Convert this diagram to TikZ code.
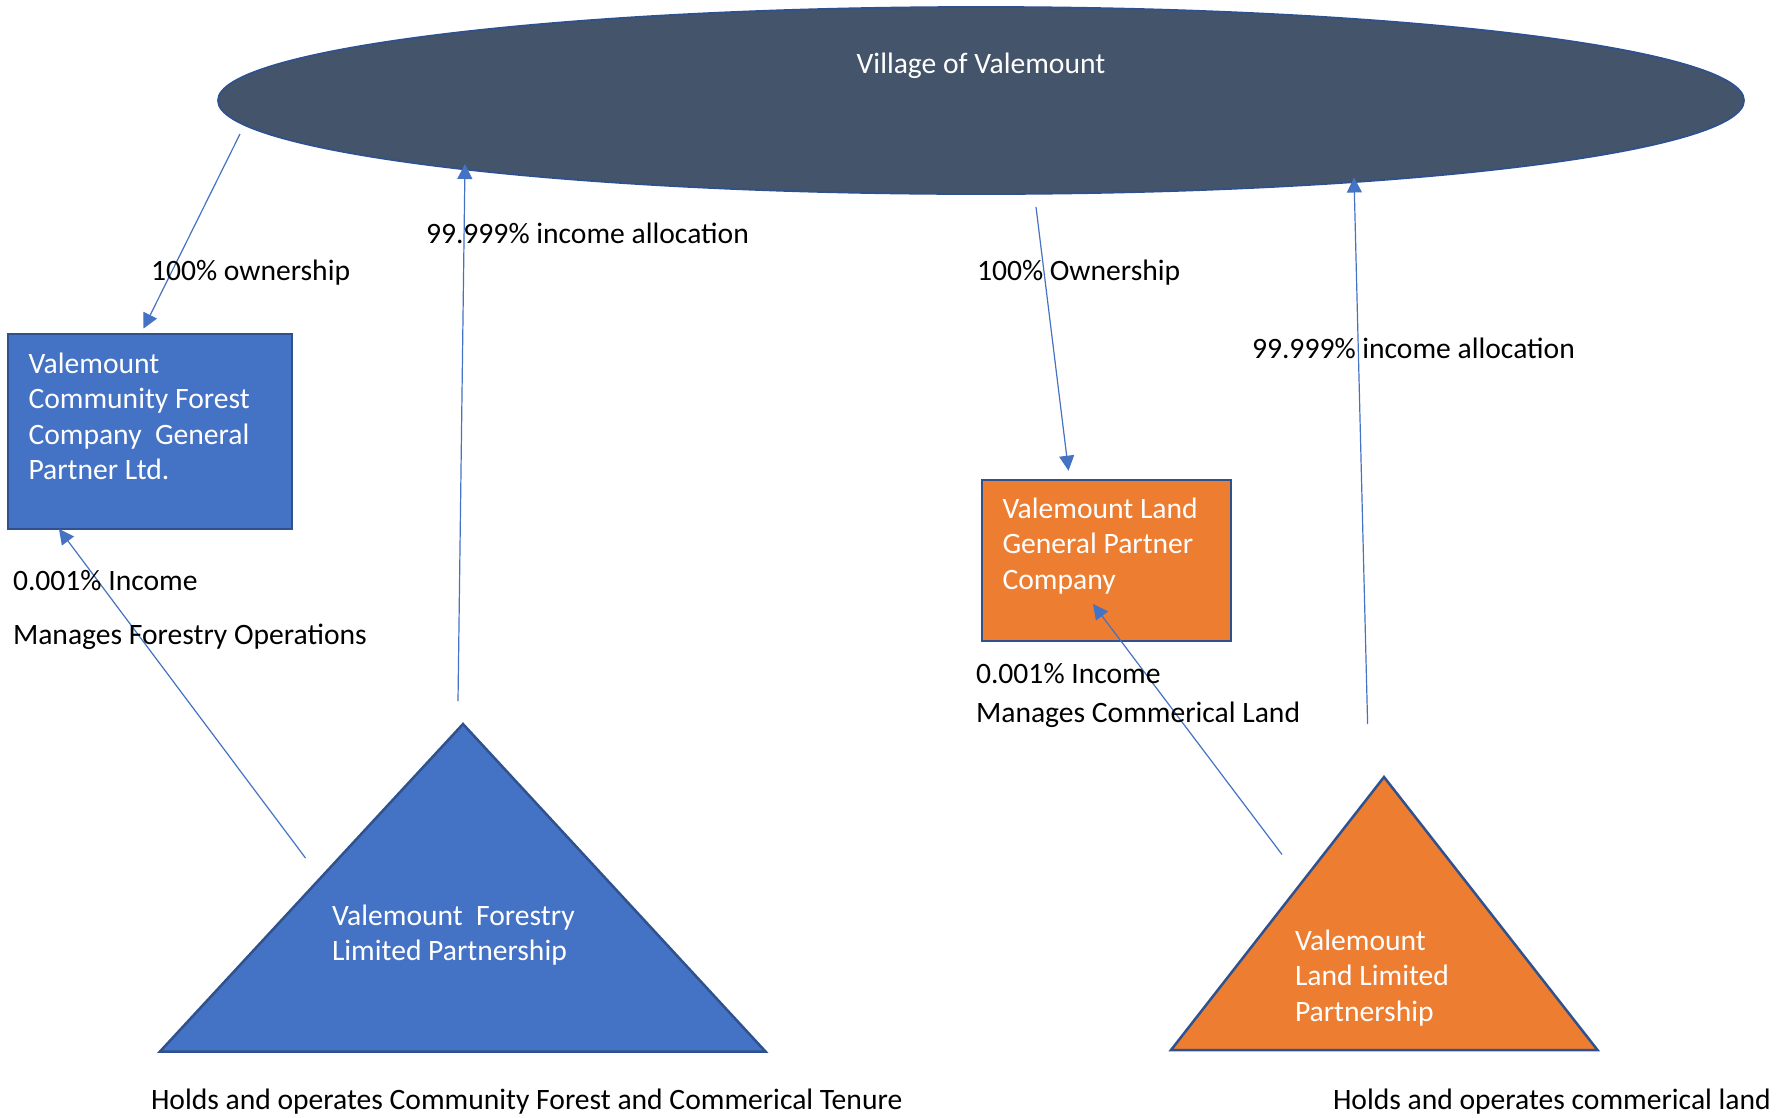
\documentclass[tikz,border=0pt]{standalone}
\usepackage{fontspec}
\setmainfont{Carlito}
\usetikzlibrary{arrows.meta,shapes.geometric}
\definecolor{vblue}{HTML}{4472C4}
\definecolor{vborder}{HTML}{2F528F}
\definecolor{vorange}{HTML}{ED7D31}
\definecolor{vslate}{HTML}{44546A}
\begin{document}
\begin{tikzpicture}[x=1pt,y=-1pt,
  txt/.style={font=\fontsize{29.6}{35.5}\selectfont, inner sep=0pt, outer sep=0pt, anchor=base west, align=left},
  wtxt/.style={txt, text=white},
  conn/.style={draw=vblue, line width=1.2pt, -{Triangle[length=15pt,width=15pt]}},
  gpbox/.style={draw=vborder, line width=2.5pt, inner sep=0pt, outer sep=0pt},
  lptri/.style={draw=vborder, line width=2.5pt, line join=miter}
]
\useasboundingbox (0,0) rectangle (1787,1117);
% Village
\node[ellipse, fill=vslate, draw=vborder, line width=1.8pt, minimum width=1526pt, minimum height=187pt, inner sep=0pt] (village) at (981,100.5) {};
\node[wtxt, anchor=base] (villagetxt) at (981,73) {Village of Valemount};
% General partner boxes (base anchor = last line baseline)
\node[gpbox, fill=vblue, minimum width=284pt, minimum height=195pt] (gpf) at (150,431.5) {};
\node[wtxt] (gpftxt) at (28.5,479.5) {Valemount\\Community Forest\\Company\ \ General\\Partner Ltd.};
\node[gpbox, fill=vorange, minimum width=249pt, minimum height=161pt] (gpl) at (1106.5,560.5) {};
\node[wtxt] (gpltxt) at (1002.5,589) {Valemount Land\\General Partner\\Company};
% Limited partnership triangles
\coordinate (lpfA) at (463,724);
\coordinate (lpfB) at (160,1051.5);
\coordinate (lpfC) at (765.5,1051.5);
\fill[vblue] (lpfA) -- (lpfB) -- (lpfC) -- cycle;
\draw[lptri] (lpfA) -- (lpfB) -- (lpfC) -- cycle;
\node[wtxt] (lpftxt) at (332,960.5) {Valemount\ \ Forestry\\Limited Partnership};
\coordinate (lplA) at (1384,777);
\coordinate (lplB) at (1171,1050);
\coordinate (lplC) at (1597.5,1050);
\fill[vorange] (lplA) -- (lplB) -- (lplC) -- cycle;
\draw[lptri] (lplA) -- (lplB) -- (lplC) -- cycle;
\node[wtxt] (lpltxt) at (1295,1021) {Valemount\\Land Limited\\Partnership};
% connector end points
\coordinate (c1s) at (240,134);
\coordinate (c1e) at (143.5,328.6);
\coordinate (c2s) at (458,701);
\coordinate (c2e) at (465,164);
\coordinate (c3s) at (1036,207);
\coordinate (c3e) at (1068.5,470.7);
\coordinate (c4s) at (1367.6,724);
\coordinate (c4e) at (1354,177.5);
\coordinate (c5s) at (305.5,858);
\coordinate (c5e) at (59,529);
\coordinate (c6s) at (1282,854.5);
\coordinate (c6e) at (1093,604);
\draw[conn] (c1s) -- (c1e);
\draw[conn] (c2s) -- (c2e);
\draw[conn] (c3s) -- (c3e);
\draw[conn] (c4s) -- (c4e);
\draw[conn] (c5s) -- (c5e);
\draw[conn] (c6s) -- (c6e);
% labels
\node[txt] (l1) at (151,280) {100\% ownership};
\node[txt] (l2) at (426,243) {99.999\% income allocation};
\node[txt] (l3) at (977,280) {100\% Ownership};
\node[txt] (l4) at (1252,358) {99.999\% income allocation};
\node[txt] (l5) at (13,590) {0.001\% Income};
\node[txt] (l6) at (13,644.5) {Manages Forestry Operations};
\node[txt] (l7) at (976,683) {0.001\% Income};
\node[txt] (l8) at (976,722) {Manages Commerical Land};
\node[txt] (l9) at (151,1109.5) {Holds and operates Community Forest and Commerical Tenure};
\node[txt] (l10) at (1333,1109.5) {Holds and operates commerical land};
\end{tikzpicture}
\end{document}
